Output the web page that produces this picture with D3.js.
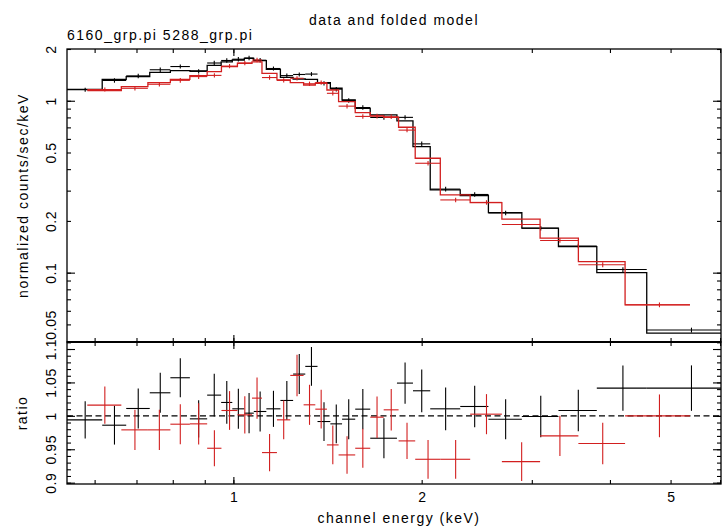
<!DOCTYPE html>
<html>
<head>
<meta charset="utf-8">
<script src="https://cdn.jsdelivr.net/npm/d3@7"></script>
<style>
  html, body { margin: 0; padding: 0; background: #fff; }
  svg { display: block; }
  text { font-family: "Liberation Sans", Arial, Helvetica, sans-serif; font-size: 14px; letter-spacing: 1.5px; fill: #000; }
</style>
</head>
<body>
<svg id="chart" width="724" height="529"></svg>
<script>
// ---- text ----
const plotTitle = "data and folded model";
const fileLabel = "6160_grp.pi 5288_grp.pi";
const yLabelTop = "normalized counts/sec/keV";
const yLabelBottom = "ratio";
const xLabel = "channel energy (keV)";

// ---- tick labels ----
const xTickLabels = [1, 2, 5];
const yTopTickLabels = [0.05, 0.1, 0.2, 0.5, 1, 2];
const ratioTickLabels = [0.9, 0.95, 1, 1.05, 1.1];

// ---- spectrum 6160_grp.pi (black): channel energy edges (keV), folded model, data/model ratio ----
const blackEdges = [0.542, 0.617, 0.674, 0.735, 0.793, 0.852, 0.908, 0.956, 0.996, 1.041,
                    1.078, 1.129, 1.189, 1.246, 1.303, 1.363, 1.429, 1.492, 1.566, 1.655,
                    1.826, 1.937, 2.064, 2.305, 2.557, 2.892, 3.309, 3.811, 4.580, 6.22];
const blackModel = [1.166, 1.331, 1.380, 1.464, 1.496, 1.49, 1.608, 1.681, 1.726, 1.766,
                    1.710, 1.524, 1.369, 1.338, 1.331, 1.274, 1.182, 1.010, 0.904, 0.827,
                    0.763, 0.541, 0.303, 0.281, 0.2235, 0.1814, 0.1418, 0.1001, 0.0445];
const blackRatio = [0.994, 0.986, 1.011, 1.0345, 1.057, 0.9955, 1.031, 1.020, 1.0105, 1.004,
                    1.0065, 1.0105, 1.023, 1.0625, 1.074, 0.9915, 0.988, 0.995, 1.010, 0.9665,
                    1.049, 1.0375, 1.0105, 1.014, 0.995, 0.999, 1.008, 1.0415, 1.0415];
const blackRatioErr = [0.028, 0.029, 0.030, 0.030, 0.029, 0.028, 0.032, 0.032, 0.030, 0.030,
                       0.030, 0.027, 0.029, 0.030, 0.029, 0.029, 0.029, 0.030, 0.030, 0.030,
                       0.031, 0.032, 0.032, 0.031, 0.030, 0.031, 0.031, 0.034, 0.034];

// ---- spectrum 5288_grp.pi (red) ----
const redEdges = [0.584, 0.662, 0.730, 0.793, 0.852, 0.908, 0.957, 1.015, 1.071, 1.111,
                  1.174, 1.233, 1.295, 1.352, 1.411, 1.473, 1.566, 1.655, 1.739, 1.837,
                  1.953, 2.142, 2.391, 2.687, 3.093, 3.561, 4.229, 5.370];
const redModel = [1.144, 1.207, 1.274, 1.331, 1.399, 1.476, 1.578, 1.652, 1.681, 1.444,
                  1.321, 1.274, 1.235, 1.264, 1.155, 0.988, 0.852, 0.816, 0.80, 0.701,
                  0.463, 0.2833, 0.2556, 0.2046, 0.1587, 0.1160, 0.0650];
const redRatio = [1.016, 0.979, 0.979, 0.9875, 0.988, 0.9515, 1.008, 1.0015, 1.0265, 0.945,
                  0.994, 1.0605, 1.0165, 1.010, 0.9565, 0.9415, 0.9515, 0.998, 1.009, 0.9625,
                  0.935, 0.935, 1.0025, 0.9315, 0.970, 0.9585, 1.000];
const redRatioErr = [0.028, 0.030, 0.030, 0.030, 0.031, 0.027, 0.029, 0.028, 0.031, 0.028,
                     0.029, 0.031, 0.030, 0.029, 0.029, 0.028, 0.029, 0.031, 0.031, 0.027,
                     0.029, 0.029, 0.030, 0.029, 0.030, 0.031, 0.032];

// ---- layout ----
const L = 67, R = 721;
const T1 = 49, B1 = 342;      // spectrum panel
const T2 = 342, B2 = 484;     // ratio panel
const RED = "#d21f1f";

const svg = d3.select("#chart");

const x = d3.scaleLog().domain([0.542, 6.02]).range([L, R]);
const yTop = d3.scaleLog().domain([0.0395, 2]).range([B1, T1]);
const yRat = d3.scaleLinear().domain([0.898, 1.1105]).range([B2, T2]);

// clip regions
const defs = svg.append("defs");
defs.append("clipPath").attr("id", "clipTop")
  .append("rect").attr("x", L).attr("y", T1).attr("width", R - L).attr("height", B1 - T1);
defs.append("clipPath").attr("id", "clipBot")
  .append("rect").attr("x", L).attr("y", T2).attr("width", R - L).attr("height", B2 - T2);

// build per-bin records for one spectrum
function bins(edges, model, ratio, err) {
  return model.map((m, i) => ({
    lo: edges[i], hi: edges[i + 1], mid: (edges[i] + edges[i + 1]) / 2,
    model: m, ratio: ratio[i], rerr: err[i],
    data: m * ratio[i], derr: m * err[i]
  }));
}
const spectra = [
  { color: "#000", bins: bins(blackEdges, blackModel, blackRatio, blackRatioErr) },
  { color: RED,    bins: bins(redEdges, redModel, redRatio, redRatioErr) }
];

// ---- axes helpers ----
const fmt = d => String(d);
function minorLog(lo, hi) {
  const out = [];
  for (let e = -2; e <= 1; e++) for (let k = 1; k <= 9; k++) {
    const v = +(k * Math.pow(10, e)).toPrecision(3);
    if (v >= lo && v <= hi) out.push(v);
  }
  return out;
}
const xMinor = minorLog(0.542, 6.02);
const xMajor = [1];
const yTopMinor = minorLog(0.0395, 2);
const yTopMajor = [0.1, 1];
const ratMinor = d3.range(90, 112).map(i => i / 100);
const ratMajor = ratioTickLabels;

function tickAxis(axisFn, scale, values, size, tx, ty) {
  svg.append("g")
    .attr("transform", `translate(${tx},${ty})`)
    .call(axisFn(scale).tickValues(values).tickSize(size).tickFormat(""))
    .call(g => g.select(".domain").remove())
    .call(g => g.selectAll("line").attr("stroke", "#000").attr("stroke-width", 1.1));
}

// x ticks: spectrum panel (top edge, bottom edge), ratio panel (top edge, bottom edge)
tickAxis(d3.axisBottom, x, xMinor, 4, 0, T1);
tickAxis(d3.axisBottom, x, xMajor, 7, 0, T1);
tickAxis(d3.axisBottom, x, xMinor, -4, 0, B1);
tickAxis(d3.axisBottom, x, xMajor, -7, 0, B1);
tickAxis(d3.axisBottom, x, xMinor, 4, 0, T2);
tickAxis(d3.axisBottom, x, xMajor, 7, 0, T2);
tickAxis(d3.axisBottom, x, xMinor, -4, 0, B2);
tickAxis(d3.axisBottom, x, xMajor, -7, 0, B2);

// y ticks (left and right, pointing inward)
tickAxis(d3.axisLeft, yTop, yTopMinor, -4, L, 0);
tickAxis(d3.axisLeft, yTop, yTopMajor, -8, L, 0);
tickAxis(d3.axisLeft, yTop, yTopMinor, 4, R, 0);
tickAxis(d3.axisLeft, yTop, yTopMajor, 8, R, 0);
tickAxis(d3.axisLeft, yRat, ratMinor, -4, L, 0);
tickAxis(d3.axisLeft, yRat, ratMajor, -8, L, 0);
tickAxis(d3.axisLeft, yRat, ratMinor, 4, R, 0);
tickAxis(d3.axisLeft, yRat, ratMajor, 8, R, 0);

// tick labels
svg.append("g").attr("transform", `translate(0,${B2})`)
  .call(d3.axisBottom(x).tickValues(xTickLabels).tickSize(0).tickFormat(fmt))
  .call(g => g.select(".domain").remove())
  .call(g => g.selectAll("text")
    .attr("y", 18).attr("dy", 0)
    .attr("font-family", null).attr("font-size", null).attr("fill", "#000")
    .style("letter-spacing", "0px"));

function yLabels(scale, values) {
  svg.append("g").attr("transform", `translate(${L},0)`)
    .call(d3.axisLeft(scale).tickValues(values).tickSize(0).tickFormat(fmt))
    .call(g => g.select(".domain").remove())
    .call(g => g.selectAll("text")
      .attr("x", 0).attr("y", 0).attr("dy", 0)
      .attr("transform", "translate(-11,0) rotate(-90)")
      .attr("text-anchor", "middle")
      .attr("font-family", null).attr("font-size", null).attr("fill", "#000")
      .style("letter-spacing", "0.6px"));
}
yLabels(yTop, yTopTickLabels);
yLabels(yRat, ratioTickLabels);

// ---- frames ----
svg.append("rect").attr("x", L).attr("y", T1).attr("width", R - L).attr("height", B1 - T1)
  .attr("fill", "none").attr("stroke", "#000").attr("stroke-width", 1.3);
svg.append("rect").attr("x", L).attr("y", T2).attr("width", R - L).attr("height", B2 - T2)
  .attr("fill", "none").attr("stroke", "#000").attr("stroke-width", 1.3);
svg.append("line").attr("x1", L).attr("x2", R).attr("y1", B1).attr("y2", B1)
  .attr("stroke", "#000").attr("stroke-width", 2.2);

// ---- spectrum panel: folded model steps and data crosses ----
const gTop = svg.append("g").attr("clip-path", "url(#clipTop)");
const step = d3.line().curve(d3.curveStepAfter);
spectra.forEach(s => {
  const pts = s.bins.map(b => [x(b.lo), yTop(b.model)]);
  const last = s.bins[s.bins.length - 1];
  pts.push([x(last.hi), yTop(last.model)]);
  gTop.append("path").attr("d", step(pts))
    .attr("fill", "none").attr("stroke", s.color).attr("stroke-width", 1.3);

  const g = gTop.append("g").attr("stroke", s.color).attr("stroke-width", 1.1);
  g.selectAll(".h").data(s.bins).join("line")
    .attr("x1", b => x(b.lo)).attr("x2", b => x(b.hi))
    .attr("y1", b => yTop(b.data)).attr("y2", b => yTop(b.data));
  g.selectAll(".v").data(s.bins).join("line")
    .attr("x1", b => x(b.mid)).attr("x2", b => x(b.mid))
    .attr("y1", b => yTop(b.data - b.derr)).attr("y2", b => yTop(b.data + b.derr));
});

// ---- ratio panel ----
const gBot = svg.append("g").attr("clip-path", "url(#clipBot)");
gBot.append("line").attr("x1", L).attr("x2", R).attr("y1", yRat(1)).attr("y2", yRat(1))
  .attr("stroke", "#000").attr("stroke-width", 1.2).attr("stroke-dasharray", "6,3.5");
spectra.forEach(s => {
  const g = gBot.append("g").attr("stroke", s.color).attr("stroke-width", 1.1);
  g.selectAll(".h").data(s.bins).join("line")
    .attr("x1", b => x(b.lo)).attr("x2", b => x(b.hi))
    .attr("y1", b => yRat(b.ratio)).attr("y2", b => yRat(b.ratio));
  g.selectAll(".v").data(s.bins).join("line")
    .attr("x1", b => x(b.mid)).attr("x2", b => x(b.mid))
    .attr("y1", b => yRat(b.ratio - b.rerr)).attr("y2", b => yRat(b.ratio + b.rerr));
});

// ---- titles ----
svg.append("text").attr("x", (L + R) / 2).attr("y", 25).attr("text-anchor", "middle").text(plotTitle);
svg.append("text").attr("x", L).attr("y", 40).text(fileLabel);
svg.append("text").attr("x", (L + R) / 2 + 5).attr("y", 523).attr("text-anchor", "middle").text(xLabel);
svg.append("text").attr("transform", `translate(28,${(T1 + B1) / 2}) rotate(-90)`)
  .attr("text-anchor", "middle").text(yLabelTop);
svg.append("text").attr("transform", `translate(27,${(T2 + B2) / 2}) rotate(-90)`)
  .attr("text-anchor", "middle").text(yLabelBottom);
</script>
</body>
</html>
